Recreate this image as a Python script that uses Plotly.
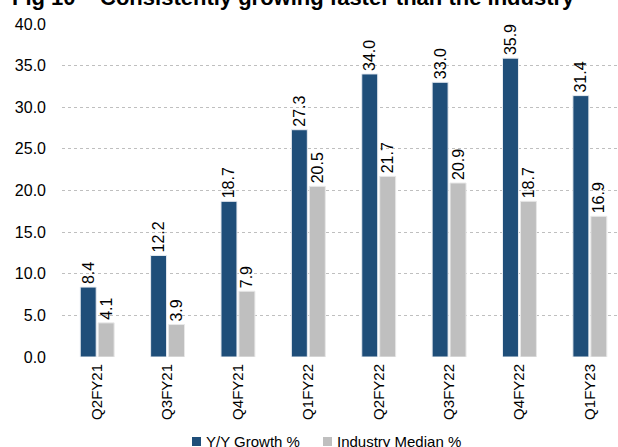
import plotly.graph_objects as go

quarters = ["Q2FY21", "Q3FY21", "Q4FY21", "Q1FY22", "Q2FY22", "Q3FY22", "Q4FY22", "Q1FY23"]
yoy_growth = [8.4, 12.2, 18.7, 27.3, 34.0, 33.0, 35.9, 31.4]
industry_median = [4.1, 3.9, 7.9, 20.5, 21.7, 20.9, 18.7, 16.9]
y_ticks = [0, 5, 10, 15, 20, 25, 30, 35, 40]

FONT = "Liberation Sans, Arial, sans-serif"
BLUE = "#1F4E79"
GREY = "#BFBFBF"

# plot area in pixels: left 62, right 618, top 24, bottom 357
L, R, T, B = 62, 618, 24, 357
def px(x):
    return (x - L) / (R - L)
def py(y):
    return (B - y) / (B - T)

fig = go.Figure()
fig.add_trace(go.Bar(
    name="Y/Y Growth %", x=quarters, y=yoy_growth,
    marker=dict(color=BLUE, line=dict(color="#E8ECF2", width=1)),
    text=[f"{v:.1f}" for v in yoy_growth], textposition="outside",
    textangle=-90, textfont=dict(size=16, color="#000000", family=FONT),
    cliponaxis=False,
))
fig.add_trace(go.Bar(
    name="Industry Median %", x=quarters, y=industry_median,
    marker=dict(color=GREY, line=dict(color="#E8E8E8", width=1)),
    text=[f"{v:.1f}" for v in industry_median], textposition="outside",
    textangle=-90, textfont=dict(size=16, color="#000000", family=FONT),
    cliponaxis=False,
))

fig.update_layout(
    width=618, height=447,
    margin=dict(l=L, r=618 - R, t=T, b=447 - B, autoexpand=False),
    paper_bgcolor="white", plot_bgcolor="white",
    barmode="group", bargap=0.49, bargroupgap=0.11,
    font=dict(family=FONT, size=16, color="#000000"),
    showlegend=False,
    uniformtext=dict(minsize=16, mode="show"),
)
fig.update_xaxes(
    range=[-0.5, 7.4], tickangle=-90, showgrid=False, showline=False,
    ticks="", tickfont=dict(size=15, family=FONT), automargin=False,
    ticklabelstandoff=3,
)
fig.update_yaxes(
    range=[0, 40], tickvals=y_ticks, tickformat=".1f",
    showgrid=True, gridcolor="#BFBFBF", griddash="dot", gridwidth=1,
    zeroline=False, showline=False, ticks="", automargin=False,
    tickfont=dict(size=16, family=FONT), ticklabelstandoff=15,
)
fig.add_annotation(
    text="<b>Fig 10 – Consistently growing faster than the industry</b>",
    xref="paper", yref="paper", x=px(10), y=1, xanchor="left", yanchor="bottom",
    yshift=12, showarrow=False, font=dict(size=22, family=FONT, color="#000000"),
)

# legend drawn as swatches with labels beneath the axis
legend_items = [("Y/Y Growth %", BLUE, 192), ("Industry Median %", GREY, 323)]
for label, color, x0 in legend_items:
    fig.add_shape(type="rect", xref="paper", yref="paper",
                  x0=px(x0), x1=px(x0 + 9), y0=py(446), y1=py(437),
                  fillcolor=color, line=dict(width=0))
    fig.add_annotation(text=label, xref="paper", yref="paper",
                       x=px(x0 + 12), y=py(441), xanchor="left", yanchor="middle",
                       showarrow=False, font=dict(size=15, family=FONT, color="#000000"))

fig.write_html("out.html")
